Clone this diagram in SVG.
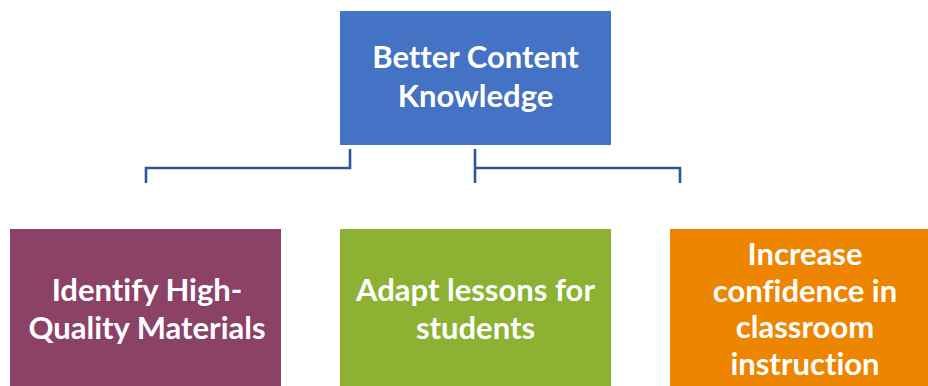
<svg xmlns="http://www.w3.org/2000/svg" width="928" height="386" viewBox="0 0 928 386">
<style>
.t{font-family:Lato,"Liberation Sans",sans-serif;font-weight:bold;font-size:31px;fill:#fff;text-anchor:middle;font-variant-ligatures:none}
.c{fill:none;stroke:#2F5597;stroke-width:2.6}
</style>
<rect width="928" height="386" fill="#fff"/>
<g id="connectors">
<polyline class="c" points="350,149 350,168 146,168 146,183"/>
<polyline class="c" points="475,149 475,183"/>
<polyline class="c" points="475,168 680,168 680,183"/>
</g>
<g id="top">
<rect x="340" y="11" width="271" height="134" fill="#4472C4"/>
<text class="t" x="475.5" y="68">Better Content</text>
<text class="t" x="475.5" y="107">Knowledge</text>
</g>
<g id="left">
<rect x="10" y="229" width="271" height="160" fill="#8C4167"/>
<text class="t" x="147" y="301">Identify High-</text>
<text class="t" x="147" y="339">Quality Materials</text>
</g>
<g id="middle">
<rect x="340" y="229" width="271" height="160" fill="#8CB133"/>
<text class="t" x="475.5" y="301">Adapt lessons for</text>
<text class="t" x="475.5" y="339">students</text>
</g>
<g id="right">
<rect x="670" y="229" width="271" height="160" fill="#EE8500"/>
<text class="t" x="805" y="265">Increase</text>
<text class="t" x="805" y="302">confidence in</text>
<text class="t" x="805" y="338">classroom</text>
<text class="t" x="805" y="375">instruction</text>
</g>
</svg>
